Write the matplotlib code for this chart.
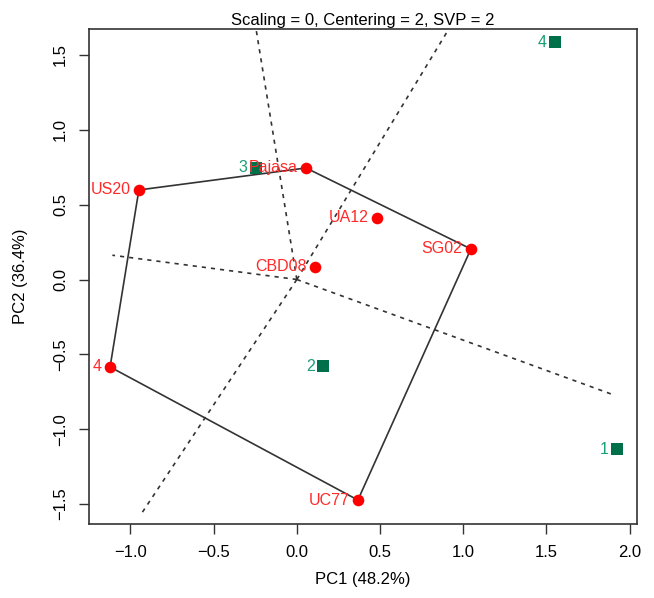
import numpy as np
import matplotlib.pyplot as plt

plt.rcParams["font.family"] = ["Liberation Sans", "DejaVu Sans"]

# genotypes (red) and environments (green), PC scores
gen_names = ["US20", "Pajasa", "UA12", "SG02", "CBD08", "4", "UC77"]
gen_pc1 = [-0.949, 0.055, 0.481, 1.046, 0.109, -1.122, 0.367]
gen_pc2 = [0.598, 0.745, 0.411, 0.204, 0.084, -0.584, -1.473]

env_names = ["1", "2", "3", "4"]
env_pc1 = [1.924, 0.157, -0.245, 1.551]
env_pc2 = [-1.132, -0.578, 0.745, 1.586]

# polygon vertices (which-won-where), in drawing order
hull = ["US20", "Pajasa", "SG02", "UC77", "4"]
# length of each ray drawn perpendicular to the hull sides
ray_len = [2.5, 2.5, 2.05, 1.82, 1.12]

fig = plt.figure(figsize=(6.54, 5.98), dpi=100)
ax = fig.add_axes([0.136, 0.1237, 0.838, 0.8278])

gx = dict(zip(gen_names, gen_pc1))
gy = dict(zip(gen_names, gen_pc2))
hx = [gx[g] for g in hull] + [gx[hull[0]]]
hy = [gy[g] for g in hull] + [gy[hull[0]]]
ax.plot(hx, hy, color="#333333", lw=1.2, zorder=2)

# rays from origin, perpendicular to each side of the polygon
for i in range(len(hull)):
    x1, y1 = hx[i], hy[i]
    x2, y2 = hx[i + 1], hy[i + 1]
    dx, dy = x2 - x1, y2 - y1
    nx, ny = dy, -dx
    if nx * x1 + ny * y1 < 0:
        nx, ny = -nx, -ny
    norm = np.hypot(nx, ny)
    L = ray_len[i]
    ax.plot([0, nx / norm * L], [0, ny / norm * L], color="#333333",
            lw=1.2, ls=(0, (2.5, 3)), zorder=1)

ax.scatter(gen_pc1, gen_pc2, s=70, color="#ff0000", zorder=4, linewidths=0)
for n, x, y in zip(gen_names, gen_pc1, gen_pc2):
    ax.text(x - 0.05, y, n, color="#ff2a2a", fontsize=11.5, ha="right",
            va="center", zorder=5, clip_on=True)

ax.scatter(env_pc1, env_pc2, s=75, marker="s", color="#00704a", zorder=4,
           linewidths=0)
for n, x, y in zip(env_names, env_pc1, env_pc2):
    ax.text(x - 0.05, y, n, color="#1a9e77", fontsize=11.5, ha="right",
            va="center", zorder=5, clip_on=True)

ax.set_xlim(-1.249, 2.044)
ax.set_ylim(-1.633, 1.673)
ax.set_xticks([-1.0, -0.5, 0.0, 0.5, 1.0, 1.5, 2.0])
ax.set_yticks([-1.5, -1.0, -0.5, 0.0, 0.5, 1.0, 1.5])
ax.set_xticklabels(["\u22121.0", "\u22120.5", "0.0", "0.5", "1.0", "1.5", "2.0"])
ax.set_yticklabels(["\u22121.5", "\u22121.0", "\u22120.5", "0.0", "0.5", "1.0", "1.5"],
                   rotation=90, va="center")
ax.tick_params(direction="out", length=7, width=1, labelsize=12, pad=8,
               color="#333333")
for s in ax.spines.values():
    s.set_linewidth(1.2)
    s.set_color("#333333")

ax.set_title("Scaling = 0, Centering = 2, SVP = 2", fontsize=12, pad=3)
ax.set_xlabel("PC1 (48.2%)", fontsize=12, labelpad=9)
ax.set_ylabel("PC2 (36.4%)", fontsize=12, labelpad=18)

fig.savefig("out.png", dpi=100)
